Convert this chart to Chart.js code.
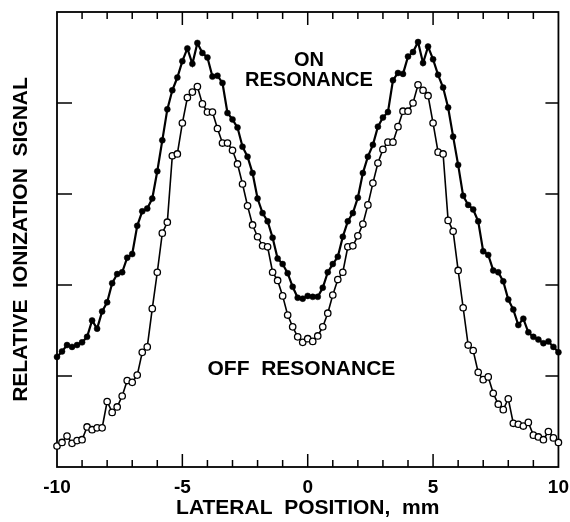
<!DOCTYPE html>
<html>
<head>
<meta charset="utf-8">
<script src="https://cdn.jsdelivr.net/npm/chart.js@4.4.1/dist/chart.umd.min.js"></script>
<style>
    html, body { margin: 0; padding: 0; background: #fff; }
    #wrap { width: 570px; height: 522px; position: relative; }
</style>
</head>
<body>
<div id="wrap"><canvas id="chart"></canvas></div>
<script>
// Lateral positions (mm) of the measured points
const positions = [
    -10, -9.8, -9.6, -9.4, -9.2, -9, -8.8, -8.6, -8.4, -8.2,
    -8, -7.8, -7.6, -7.4, -7.2, -7, -6.8, -6.6, -6.4, -6.2,
    -6, -5.8, -5.6, -5.4, -5.2, -5, -4.8, -4.6, -4.4, -4.2,
    -4, -3.8, -3.6, -3.4, -3.2, -3, -2.8, -2.6, -2.4, -2.2,
    -2, -1.8, -1.6, -1.4, -1.2, -1, -0.8, -0.6, -0.4, -0.2,
    0, 0.2, 0.4, 0.6, 0.8, 1, 1.2, 1.4, 1.6, 1.8,
    2, 2.2, 2.4, 2.6, 2.8, 3, 3.2, 3.4, 3.6, 3.8,
    4, 4.2, 4.4, 4.6, 4.8, 5, 5.2, 5.4, 5.6, 5.8,
    6, 6.2, 6.4, 6.6, 6.8, 7, 7.2, 7.4, 7.6, 7.8,
    8, 8.2, 8.4, 8.6, 8.8, 9, 9.2, 9.4, 9.6, 9.8,
    10
];

// Relative ionization signal, on resonance (filled dots)
const onResonance = [
    1.21, 1.27, 1.34, 1.32, 1.34, 1.37, 1.43, 1.61, 1.52, 1.71,
    1.81, 2.02, 2.12, 2.14, 2.30, 2.34, 2.65, 2.81, 2.84, 2.95,
    3.25, 3.59, 3.93, 4.14, 4.28, 4.46, 4.60, 4.43, 4.66, 4.55,
    4.50, 4.29, 4.30, 4.22, 3.89, 3.82, 3.73, 3.52, 3.41, 3.23,
    2.95, 2.79, 2.70, 2.52, 2.29, 2.23, 2.13, 1.98, 1.86, 1.85,
    1.88, 1.87, 1.87, 1.97, 2.14, 2.23, 2.31, 2.53, 2.70, 2.79,
    2.96, 3.23, 3.41, 3.54, 3.74, 3.84, 3.90, 4.25, 4.33, 4.32,
    4.51, 4.56, 4.67, 4.44, 4.62, 4.48, 4.31, 4.17, 3.95, 3.63,
    3.32, 2.98, 2.88, 2.83, 2.70, 2.37, 2.33, 2.16, 2.14, 2.04,
    1.84, 1.73, 1.56, 1.63, 1.48, 1.43, 1.40, 1.36, 1.38, 1.32,
    1.26
];

// Relative ionization signal, off resonance (open circles)
const offResonance = [
    0.23, 0.27, 0.34, 0.26, 0.29, 0.30, 0.44, 0.41, 0.43, 0.43,
    0.72, 0.60, 0.66, 0.78, 0.95, 0.93, 1.01, 1.26, 1.32, 1.74,
    2.14, 2.57, 2.69, 3.42, 3.44, 3.78, 4.06, 4.12, 4.18, 3.99,
    3.90, 3.90, 3.72, 3.56, 3.56, 3.48, 3.33, 3.11, 2.87, 2.66,
    2.53, 2.43, 2.42, 2.14, 2.05, 1.88, 1.67, 1.54, 1.43, 1.37,
    1.41, 1.38, 1.44, 1.54, 1.69, 1.89, 2.06, 2.14, 2.42, 2.43,
    2.54, 2.67, 2.88, 3.12, 3.34, 3.49, 3.57, 3.57, 3.74, 3.91,
    3.91, 4.00, 4.20, 4.14, 4.08, 3.78, 3.46, 3.44, 2.71, 2.59,
    2.16, 1.75, 1.34, 1.28, 1.04, 0.96, 0.99, 0.81, 0.69, 0.63,
    0.75, 0.48, 0.47, 0.45, 0.49, 0.35, 0.33, 0.30, 0.39, 0.32,
    0.27
];

// Axis ticks (unlabelled marks) and labelled x values
const xMinorTicks = [-9, -8, -7, -6, -5, -4, -3, -2, -1, 0, 1, 2, 3, 4, 5, 6, 7, 8, 9];
const xMajorTicks = [-5, 0, 5];
const yTicks = [1, 2, 3, 4];

const FONT = '"Liberation Sans", Arial, Helvetica, sans-serif';

// Draws the box round the plot and the inward tick marks
const frameTicks = {
    id: 'frameTicks',
    beforeDatasetsDraw(chart) {
        const { ctx, chartArea: a, scales } = chart;
        ctx.save();
        ctx.strokeStyle = '#000';
        ctx.lineWidth = 1.8;
        ctx.strokeRect(a.left, a.top, a.right - a.left, a.bottom - a.top);
        ctx.lineWidth = 1.5;
        ctx.beginPath();
        xMinorTicks.forEach(v => {
            const px = scales.x.getPixelForValue(v);
            const len = xMajorTicks.includes(v) ? 13 : 7;
            ctx.moveTo(px, a.bottom);
            ctx.lineTo(px, a.bottom - len);
            ctx.moveTo(px, a.top);
            ctx.lineTo(px, a.top + len);
        });
        yTicks.forEach(v => {
            const py = scales.y.getPixelForValue(v);
            ctx.moveTo(a.left, py);
            ctx.lineTo(a.left + 15, py);
            ctx.moveTo(a.right, py);
            ctx.lineTo(a.right - 13, py);
        });
        ctx.stroke();
        ctx.restore();
    }
};

// In-plot series labels
const seriesLabels = {
    id: 'seriesLabels',
    afterDatasetsDraw(chart) {
        const { ctx, scales } = chart;
        ctx.save();
        ctx.fillStyle = '#000';
        ctx.textAlign = 'center';
        ctx.textBaseline = 'middle';
        ctx.font = 'bold 20px ' + FONT;
        ctx.fillText('ON', scales.x.getPixelForValue(0.05), scales.y.getPixelForValue(4.47));
        ctx.fillText('RESONANCE', scales.x.getPixelForValue(0.05), scales.y.getPixelForValue(4.25));
        ctx.font = 'bold 21px ' + FONT;
        ctx.fillText('OFF  RESONANCE', scales.x.getPixelForValue(-0.25), scales.y.getPixelForValue(1.08));
        ctx.restore();
    }
};

const ctx = document.getElementById('chart').getContext('2d');
new Chart(ctx, {
    type: 'line',
    data: {
        datasets: [
            {
                label: 'ON RESONANCE',
                data: positions.map((x, i) => ({ x: x, y: onResonance[i] })),
                borderColor: '#000',
                borderWidth: 2.2,
                pointRadius: 3,
                pointBackgroundColor: '#000',
                pointBorderColor: '#000',
                pointBorderWidth: 0.5,
                tension: 0,
                clip: false
            },
            {
                label: 'OFF RESONANCE',
                data: positions.map((x, i) => ({ x: x, y: offResonance[i] })),
                borderColor: '#000',
                borderWidth: 1.6,
                pointRadius: 3.2,
                pointBackgroundColor: '#fff',
                pointBorderColor: '#000',
                pointBorderWidth: 1.3,
                tension: 0,
                clip: false
            }
        ]
    },
    options: {
        responsive: true,
        maintainAspectRatio: false,
        animation: false,
        layout: { padding: { top: 12, right: 10, left: 0, bottom: 0 } },
        plugins: {
            legend: { display: false },
            tooltip: { enabled: false }
        },
        scales: {
            x: {
                type: 'linear',
                min: -10,
                max: 10,
                grid: { display: false },
                border: { display: false },
                ticks: {
                    stepSize: 5,
                    color: '#000',
                    padding: 1,
                    maxRotation: 0,
                    font: { family: FONT, size: 19, weight: 'bold' }
                },
                title: {
                    display: true,
                    text: 'LATERAL  POSITION,  mm',
                    color: '#000',
                    padding: { top: 0, bottom: 1 },
                    font: { family: FONT, size: 21, weight: 'bold' }
                },
                afterFit(scale) { scale.height = 55; }
            },
            y: {
                type: 'linear',
                min: 0,
                max: 5,
                grid: { display: false },
                border: { display: false },
                ticks: { display: false },
                title: {
                    display: true,
                    text: 'RELATIVE  IONIZATION  SIGNAL',
                    color: '#000',
                    padding: { top: 9, bottom: 0 },
                    font: { family: FONT, size: 21, weight: 'bold' }
                },
                afterFit(scale) { scale.width = 57; }
            }
        }
    },
    plugins: [frameTicks, seriesLabels]
});
</script>
</body>
</html>
